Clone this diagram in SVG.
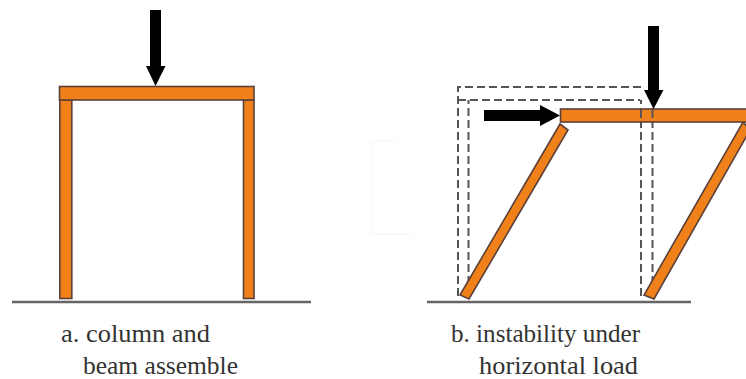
<svg xmlns="http://www.w3.org/2000/svg" width="746" height="379" viewBox="0 0 746 379">
<style>
.m{fill:#f08019;stroke:#5a4038;stroke-width:1.6}
.g{stroke:#666;stroke-width:2.4;fill:none}
.d{stroke:#555;stroke-width:2;stroke-dasharray:8 4;fill:none}
.a{fill:#000}
.t{font-family:"Liberation Serif",serif;font-size:26px;fill:#333}
</style>
<rect width="746" height="379" fill="#fff"/>
<path d="M397 141H372V234H412" fill="none" stroke="#f9f9f9" stroke-width="1.5"/>
<g id="connectors">
<path class="g" d="M12 302H311"/>
<path class="g" d="M427 302H691"/>
<path class="d" d="M458 296V87H643"/>
<path class="d" d="M458 100H640M468.500 296V100M641 296V100M652.500 296V100"/>
</g>
<g id="assembly-a">
<rect class="m" x="59.800" y="100" width="12" height="198.500"/>
<rect class="m" x="243.500" y="100" width="10.500" height="198.500"/>
<rect class="m" x="59.500" y="86.500" width="194.500" height="13.500"/>
</g>
<g id="load-a">
<path class="a" d="M150 10H161V66H165.500L155.500 86L146 66H150Z"/>
</g>
<g id="assembly-b">
<path class="m" d="M560 124L568 130L469 299L460 295Z"/>
<path class="m" d="M743 122L750 130L654 299L644 295Z"/>
<rect class="m" x="560.500" y="109" width="190" height="13"/>
</g>
<g id="dash-over-beam">
<path class="d" d="M641 110V122M652.500 110V122"/>
</g>
<g id="load-b">
<path class="a" d="M648 26H659V90H663.500L653.500 109L644 90H648Z"/>
<path class="a" d="M484 110H540V105L560 115.500L540 126V121H484Z"/>
</g>
<g id="label-a">
<text class="t" x="61" y="342" textLength="149" lengthAdjust="spacingAndGlyphs">a. column and</text>
<text class="t" x="83" y="374" textLength="155" lengthAdjust="spacingAndGlyphs">beam assemble</text>
</g>
<g id="label-b">
<text class="t" x="451" y="342" textLength="189" lengthAdjust="spacingAndGlyphs">b. instability under</text>
<text class="t" x="479" y="374" textLength="159" lengthAdjust="spacingAndGlyphs">horizontal load</text>
</g>
</svg>
